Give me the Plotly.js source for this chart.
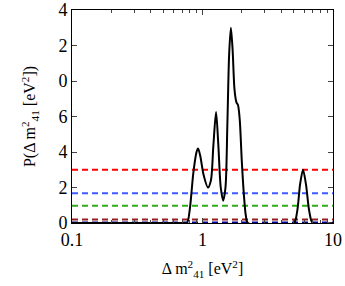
<!DOCTYPE html>
<html>
<head>
<meta charset="utf-8">
<script src="https://cdn.plot.ly/plotly-3.0.1.min.js"></script>
<style>
  body { margin: 0; background: #fff; }
  #plot { width: 345px; height: 286px; }
</style>
</head>
<body>
<div id="plot"></div>
<script>
// posterior curve
const massX = [0.1, 0.7, 0.76, 0.8, 0.85, 0.9, 0.925, 0.96, 1.02, 1.1, 1.16, 1.21, 1.27, 1.32, 1.38, 1.44,
  1.5, 1.55, 1.6, 1.65, 1.7, 1.76, 1.82, 1.87, 1.93, 2.0, 2.08, 2.15, 2.23, 5.0, 5.3, 5.6, 5.89, 6.2, 6.6, 7.0, 10];
const probY = [0, 0, 0, 0.8, 2.8, 4.0, 4.2, 3.8, 2.7, 2.0, 2.4, 4.3, 6.25, 4.5, 2.0, 1.26,
  2.0, 5.5, 9.5, 11.0, 9.8, 7.5, 6.8, 6.65, 5.8, 3.5, 1.5, 0.4, 0, 0, 0.6, 2.2, 3.0, 2.2, 0.6, 0, 0];

// horizontal dashed levels
const levelValues = [3.0, 1.67, 0.97, 0.2, 0.03];
const levelColors = ['rgb(255,0,0)', 'rgb(60,90,255)', 'rgb(50,170,30)', 'rgb(150,30,30)', 'rgb(0,0,150)'];

const yTickVals = [0, 2, 4, 6, 8, 10, 12];
const yTickText = ['0', '2', '4', '6', '0', '2', '4'];
const xTickVals = [0.1, 1, 10];
const xTickText = ['0.1', '1', '10'];

var data = levelValues.map((v, i) => ({
    x: [0.1, 10],
    y: [v, v],
    type: 'scatter',
    mode: 'lines',
    line: { color: levelColors[i], width: 2, dash: '6px,4px' },
    hoverinfo: 'skip'
}));

data.push({
    x: massX,
    y: probY,
    type: 'scatter',
    mode: 'lines',
    line: { color: 'black', width: 2, shape: 'spline', smoothing: 0.8 }
});

var serif = '"Liberation Serif", "Times New Roman", serif';
var tickFont = { family: serif, size: 18, color: 'black' };
var titleFont = { family: serif, size: 16, color: 'black' };

var layout = {
    width: 345,
    height: 286,
    margin: { l: 72, r: 12, t: 10, b: 63 },
    showlegend: false,
    paper_bgcolor: 'white',
    plot_bgcolor: 'white',
    font: tickFont,
    xaxis: {
        type: 'log',
        range: [-1, 1],
        tickvals: xTickVals,
        ticktext: xTickText,
        tickfont: tickFont,
        ticks: 'inside',
        ticklen: 5,
        showline: true,
        linecolor: 'black',
        linewidth: 1,
        mirror: 'ticks',
        showgrid: false,
        zeroline: false,
        minor: { dtick: 'D1', ticks: 'inside', ticklen: 3, tickcolor: '#444', showgrid: false },
        title: { text: 'Δ m<sup>2</sup><sub>41</sub> [eV<sup>2</sup>]', font: titleFont, standoff: 14 }
    },
    yaxis: {
        range: [0, 12],
        tickvals: yTickVals,
        ticktext: yTickText,
        tickfont: tickFont,
        ticks: 'inside',
        ticklen: 5,
        showline: true,
        linecolor: 'black',
        linewidth: 1,
        mirror: 'ticks',
        showgrid: false,
        zeroline: false,
        title: { text: 'P(Δ m<sup>2</sup><sub>41</sub> [eV<sup>2</sup>])', font: titleFont, standoff: 18 }
    }
};

Plotly.newPlot('plot', data, layout, { displayModeBar: false, staticPlot: true });
</script>
</body>
</html>
